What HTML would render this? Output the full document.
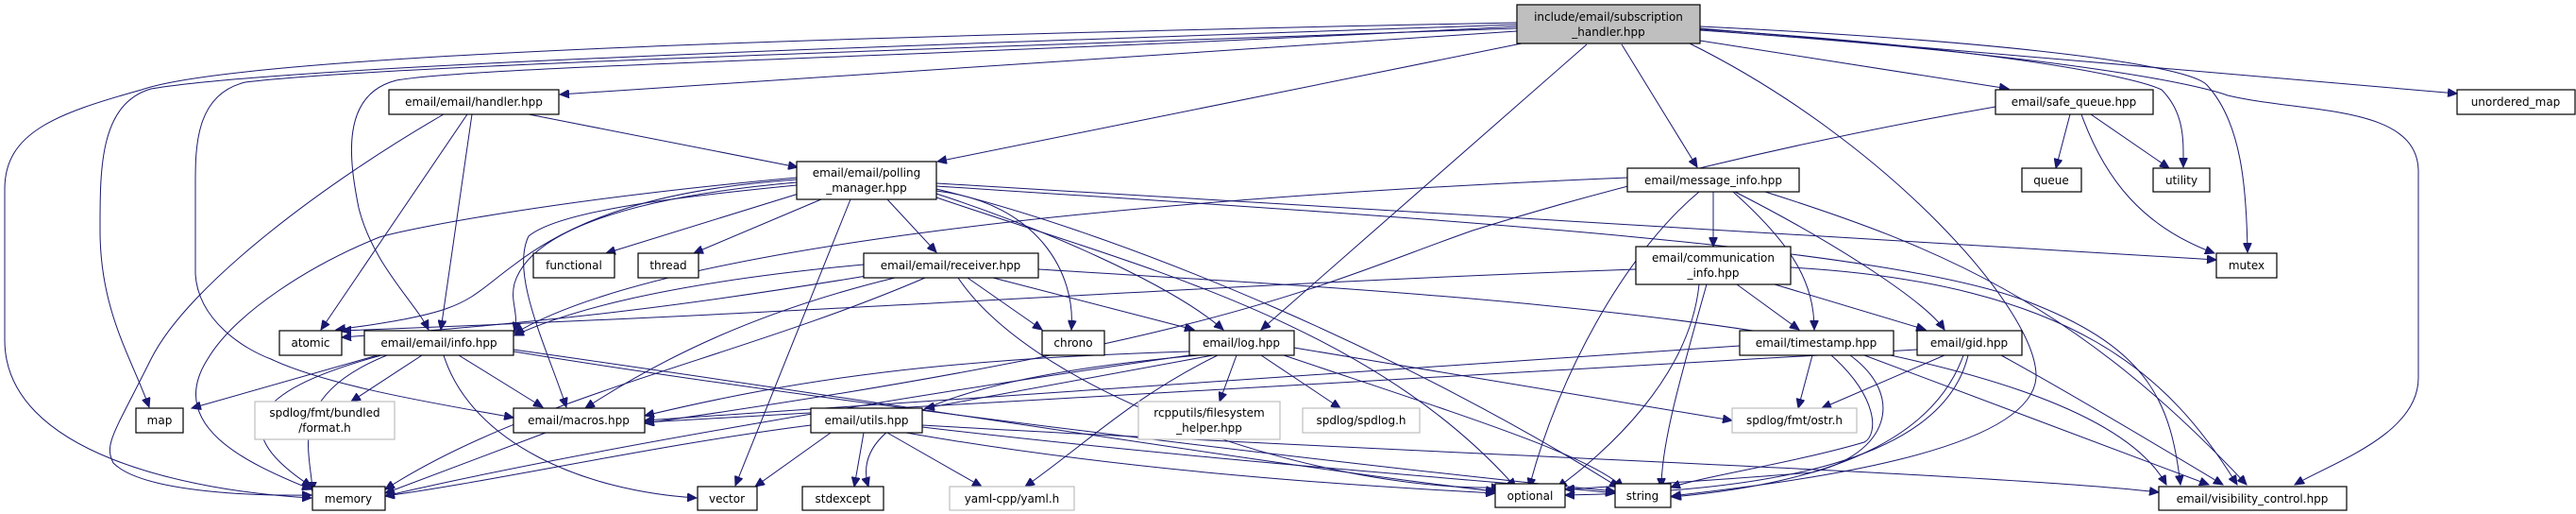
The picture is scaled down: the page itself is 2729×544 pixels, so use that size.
<!DOCTYPE html>
<html><head><meta charset="utf-8"><style>
html,body{margin:0;padding:0;background:#fff;}
svg{display:block}
text{font-family:"DejaVu Sans","Liberation Sans",sans-serif;font-size:12px;fill:#000}
.n{fill:#fff;stroke:#000;stroke-width:1.2}
.g{fill:#fff;stroke:#bfbfbf;stroke-width:1.2}
.e{fill:none;stroke:#191970;stroke-width:1}
</style></head><body>
<svg width="2729" height="544" viewBox="0 0 2729 544" xmlns="http://www.w3.org/2000/svg">
<defs><marker id="a" markerWidth="11" markerHeight="9" refX="10" refY="4.5" orient="auto" markerUnits="userSpaceOnUse"><path d="M0,0 L10,4.5 L0,9 z" fill="#191970" stroke="#191970"/></marker></defs>
<g class="e" marker-end="url(#a)">
<!-- main -->
<path d="M1607,33 L593,100"/>
<path d="M1612,46 L993,171"/>
<path d="M1607,28 C1000,60 500,70 420,85 C360,100 370,170 380,220 C395,280 440,320 454,349"/>
<path d="M1607,26 C900,50 300,70 160,94 C105,110 106,180 106,244 C106,330 140,380 158,431"/>
<path d="M1607,24 C800,40 250,60 150,95 C60,120 5,140 5,200 L5,360 C5,480 200,520 330,527"/>
<path d="M1607,30 C900,55 400,70 260,87 C205,100 207,160 207,200 L207,290 C210,340 260,370 287,380 C350,410 480,430 544,442"/>
<path d="M1681,47 L1336,349"/>
<path d="M1718,47 L1798,177"/>
<path d="M1790,46 C2000,150 2160,330 2157,400 C2150,480 1900,510 1771,525"/>
<path d="M1801,43 L2128,94"/>
<path d="M1801,31 C2100,50 2260,80 2290,95 C2315,120 2313,150 2313,177"/>
<path d="M1801,28 C2150,45 2320,70 2338,90 C2375,130 2380,200 2381,267"/>
<path d="M1801,32 C2200,60 2330,90 2360,101 C2440,120 2560,110 2562,180 L2562,400 C2562,460 2470,490 2431,513"/>
<path d="M1801,30 L2603,99"/>
<!-- handler -->
<path d="M560,121 L845,177"/>
<path d="M495,121 L340,349"/>
<path d="M500,121 L467,349"/>
<path d="M470,121 C350,190 200,300 160,380 C120,460 110,470 120,490 C150,520 260,525 330,524"/>
<!-- polling manager -->
<path d="M846,205 L642,268"/>
<path d="M870,211 L735,268"/>
<path d="M940,211 L992,267"/>
<path d="M844,193 C650,210 560,250 545,300 C540,320 550,330 545,351"/>
<path d="M844,190 C700,200 610,230 545,280 C490,320 500,330 356,349"/>
<path d="M844,188 C600,210 440,240 402,251 C330,280 250,330 220,380 C175,450 260,490 330,518"/>
<path d="M844,196 C700,210 590,225 560,250 C540,290 580,370 600,431"/>
<path d="M901,211 L779,514"/>
<path d="M992,202 C1100,215 1140,290 1135,349"/>
<path d="M992,205 C1100,240 1240,300 1296,349"/>
<path d="M992,209 C1200,280 1450,340 1606,516"/>
<path d="M992,200 C1200,250 1500,380 1715,516"/>
<path d="M992,194 L2348,275"/>
<path d="M992,197 C1500,230 2000,260 2150,320 C2280,370 2300,430 2310,513"/>
<!-- receiver -->
<path d="M915,280 C700,300 600,330 545,355"/>
<path d="M930,290 C750,320 600,340 362,357"/>
<path d="M948,294 C800,330 700,380 620,432"/>
<path d="M980,294 C780,380 560,420 408,518"/>
<path d="M1025,294 L1104,349"/>
<path d="M1052,294 L1265,349"/>
<path d="M1015,294 C1100,420 1400,520 1590,516"/>
<path d="M1100,285 C1500,310 2200,340 2295,513"/>
<!-- message_info -->
<path d="M1815,203 L1815,261"/>
<path d="M1836,203 C1900,260 1922,300 1922,349"/>
<path d="M1838,203 C1950,260 2040,320 2060,349"/>
<path d="M1800,203 C1720,270 1650,400 1620,516"/>
<path d="M1870,203 C2050,260 2200,320 2380,513"/>
<path d="M1724,188 C1200,210 700,260 545,353"/>
<!-- communication -->
<path d="M1733,285 C1300,300 900,330 362,350"/>
<path d="M1840,301 L1906,349"/>
<path d="M1880,301 L2040,349"/>
<path d="M1808,301 C1780,400 1760,470 1760,516"/>
<path d="M1800,301 C1790,400 1700,480 1650,516"/>
<path d="M1897,283 C2200,300 2300,400 2370,513"/>
<!-- info -->
<path d="M400,376 L203,432"/>
<path d="M447,376 L372,425"/>
<path d="M486,376 L575,431"/>
<path d="M404,376 C280,410 230,450 330,515"/>
<path d="M410,376 C300,420 330,480 331,520"/>
<path d="M470,376 C500,470 620,520 738,527"/>
<path d="M544,370 C900,420 1400,500 1584,520"/>
<path d="M544,372 C900,430 1500,500 1711,520"/>
<!-- macros -->
<path d="M578,458 L408,522"/>
<!-- log -->
<path d="M1285,376 L980,432"/>
<path d="M1310,376 L1292,425"/>
<path d="M1336,376 L1420,432"/>
<path d="M1290,376 C1200,420 1150,470 1086,515"/>
<path d="M1371,368 L1835,445"/>
<path d="M1260,372 C1000,380 850,400 683,440"/>
<path d="M1260,376 C950,420 600,480 408,525"/>
<path d="M1270,376 C1000,400 900,450 920,515"/>
<path d="M1360,376 C1550,440 1680,480 1720,516"/>
<!-- utils -->
<path d="M859,450 C700,470 520,510 408,525"/>
<path d="M880,458 L800,515"/>
<path d="M915,458 L905,515"/>
<path d="M940,458 L1040,515"/>
<path d="M960,458 C1200,500 1450,515 1584,522"/>
<path d="M977,452 C1300,490 1600,510 1711,522"/>
<path d="M977,450 C1500,480 2100,500 2287,521"/>
<!-- timestamp -->
<path d="M1843,366 L683,445"/>
<path d="M1920,376 L1905,432"/>
<path d="M1940,376 C1990,420 1990,460 1975,468 C1900,490 1800,505 1770,516"/>
<path d="M1960,376 C2020,420 2000,480 1920,500 C1800,510 1700,515 1658,518"/>
<path d="M1975,376 L2340,513"/>
<!-- gid -->
<path d="M2031,370 L683,447"/>
<path d="M2060,376 L1930,432"/>
<path d="M2080,376 C2050,460 1950,510 1771,526"/>
<path d="M2085,376 C2060,480 1900,520 1658,524"/>
<path d="M2120,376 C2200,420 2300,480 2355,513"/>
<!-- safe_queue -->
<path d="M2193,121 L2178,178"/>
<path d="M2215,121 L2298,178"/>
<path d="M2205,121 C2230,190 2270,240 2346,268"/>
<path d="M2114,113 C1900,150 1700,200 1560,244 C1400,300 1300,360 683,448"/>
</g>
<!-- nodes -->
<rect x="1607" y="5" width="194" height="41" fill="#bfbfbf" stroke="#000" stroke-width="1.2"/>
<text x="1704" y="22" text-anchor="middle">include/email/subscription</text>
<text x="1704" y="38" text-anchor="middle">_handler.hpp</text>
<g>
<rect class="n" x="412" y="95" width="180" height="26"/><text x="502" y="112" text-anchor="middle">email/email/handler.hpp</text>
<rect class="n" x="844" y="171" width="148" height="40"/><text x="918" y="187" text-anchor="middle">email/email/polling</text><text x="918" y="203" text-anchor="middle">_manager.hpp</text>
<rect class="n" x="1724" y="178" width="182" height="25"/><text x="1815" y="195" text-anchor="middle">email/message_info.hpp</text>
<rect class="n" x="2114" y="95" width="167" height="26"/><text x="2197" y="112" text-anchor="middle">email/safe_queue.hpp</text>
<rect class="n" x="2603" y="95" width="125" height="26"/><text x="2665" y="112" text-anchor="middle">unordered_map</text>
<rect class="n" x="2142" y="178" width="63" height="25"/><text x="2173" y="195" text-anchor="middle">queue</text>
<rect class="n" x="2281" y="178" width="60" height="25"/><text x="2311" y="195" text-anchor="middle">utility</text>
<rect class="n" x="565" y="268" width="86" height="26"/><text x="608" y="285" text-anchor="middle">functional</text>
<rect class="n" x="676" y="268" width="64" height="26"/><text x="708" y="285" text-anchor="middle">thread</text>
<rect class="n" x="915" y="268" width="185" height="26"/><text x="1007" y="285" text-anchor="middle">email/email/receiver.hpp</text>
<rect class="n" x="1733" y="261" width="164" height="40"/><text x="1815" y="277" text-anchor="middle">email/communication</text><text x="1815" y="293" text-anchor="middle">_info.hpp</text>
<rect class="n" x="2348" y="268" width="64" height="26"/><text x="2380" y="285" text-anchor="middle">mutex</text>
<rect class="n" x="296" y="350" width="66" height="26"/><text x="329" y="367" text-anchor="middle">atomic</text>
<rect class="n" x="386" y="350" width="158" height="26"/><text x="465" y="367" text-anchor="middle">email/email/info.hpp</text>
<rect class="n" x="1104" y="350" width="66" height="26"/><text x="1137" y="367" text-anchor="middle">chrono</text>
<rect class="n" x="1260" y="350" width="111" height="26"/><text x="1315" y="367" text-anchor="middle">email/log.hpp</text>
<rect class="n" x="1843" y="350" width="163" height="26"/><text x="1924" y="367" text-anchor="middle">email/timestamp.hpp</text>
<rect class="n" x="2031" y="350" width="111" height="26"/><text x="2086" y="367" text-anchor="middle">email/gid.hpp</text>
<rect class="n" x="144" y="432" width="50" height="26"/><text x="169" y="449" text-anchor="middle">map</text>
<rect class="g" x="270" y="425" width="148" height="40"/><text x="344" y="441" text-anchor="middle">spdlog/fmt/bundled</text><text x="344" y="457" text-anchor="middle">/format.h</text>
<rect class="n" x="544" y="432" width="139" height="26"/><text x="613" y="449" text-anchor="middle">email/macros.hpp</text>
<rect class="n" x="859" y="432" width="118" height="26"/><text x="918" y="449" text-anchor="middle">email/utils.hpp</text>
<rect class="g" x="1206" y="425" width="150" height="40"/><text x="1281" y="441" text-anchor="middle">rcpputils/filesystem</text><text x="1281" y="457" text-anchor="middle">_helper.hpp</text>
<rect class="g" x="1380" y="432" width="124" height="26"/><text x="1442" y="449" text-anchor="middle">spdlog/spdlog.h</text>
<rect class="g" x="1835" y="432" width="132" height="26"/><text x="1901" y="449" text-anchor="middle">spdlog/fmt/ostr.h</text>
<rect class="n" x="331" y="515" width="77" height="25"/><text x="369" y="532" text-anchor="middle">memory</text>
<rect class="n" x="739" y="515" width="63" height="25"/><text x="770" y="532" text-anchor="middle">vector</text>
<rect class="n" x="850" y="515" width="86" height="25"/><text x="893" y="532" text-anchor="middle">stdexcept</text>
<rect class="g" x="1006" y="515" width="132" height="25"/><text x="1072" y="532" text-anchor="middle">yaml-cpp/yaml.h</text>
<rect class="n" x="1584" y="512" width="74" height="25"/><text x="1621" y="529" text-anchor="middle">optional</text>
<rect class="n" x="1711" y="512" width="59" height="25"/><text x="1740" y="529" text-anchor="middle">string</text>
<rect class="n" x="2287" y="515" width="199" height="25"/><text x="2386" y="532" text-anchor="middle">email/visibility_control.hpp</text>
</g>
</svg>
</body></html>
